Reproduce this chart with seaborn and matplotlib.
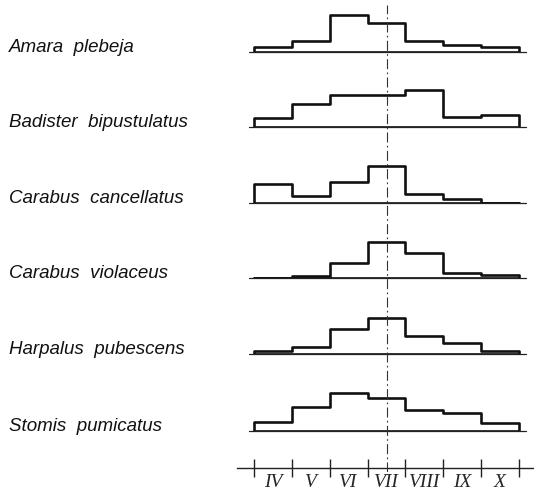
import numpy as np
import pandas as pd
import matplotlib
matplotlib.use("Agg")
import matplotlib.pyplot as plt
import seaborn as sns

# ---- data ----
months = ["IV", "V", "VI", "VII", "VIII", "IX", "X"]
species = ["Amara  plebeja", "Badister  bipustulatus", "Carabus  cancellatus",
           "Carabus  violaceus", "Harpalus  pubescens", "Stomis  pumicatus"]
amara = [5, 11, 37, 29, 11, 7, 4.5]
badister = [9, 23, 32, 32, 37, 10, 12]
cancellatus = [19, 6.5, 21, 37, 8.5, 3.5, 0]
violaceus = [0, 1.7, 15, 36, 25, 4.5, 2.7]
harpalus = [3.3, 7.3, 25.5, 36.5, 18.3, 11.3, 3]
stomis = [8.5, 23.5, 37.5, 33, 20.5, 18, 8]
series = [amara, badister, cancellatus, violaceus, harpalus, stomis]

sns.set_theme(style="white")
plt.rcParams["font.family"] = ["Liberation Sans", "DejaVu Sans"]

W, H = 534, 496
fig = plt.figure(figsize=(W / 100, H / 100), dpi=100)

X0, UNIT = 254.0, 37.86          # pixel of first month edge, pixels per month


def px2x(p):
    return (p - X0) / UNIT


def add_axes_px(left, right, top, bottom):
    return fig.add_axes([left / W, 1 - bottom / H, (right - left) / W, (bottom - top) / H])


edges = [float(i) for i in range(len(months) + 1)]
centers = [e + 0.5 for e in edges[:-1]]
baselines = [51.7, 127.3, 202.7, 277.7, 354.0, 430.7]
PH = 48  # panel height in px (value units)

for name, vals, b in zip(species, series, baselines):
    ax = add_axes_px(249, 526, b - PH, b)
    df = pd.DataFrame({"month": centers, "n": vals})
    sns.histplot(data=df, x="month", weights="n", bins=edges, element="step",
                 fill=True, color="#111111", facecolor="none",
                 edgecolor="#111111", linewidth=1.9, ax=ax)
    ax.axhline(0, color="#222222", lw=0.9, clip_on=False)
    ax.set_xlim(px2x(249), px2x(526))
    ax.set_ylim(0, PH)
    ax.set_axis_off()
    fig.text(9 / W, 1 - b / H, name, fontsize=13.5, fontstyle="italic",
             ha="left", va="baseline", color="#111111")

# month axis
axm = add_axes_px(237, 533, 440, 468)
axm.set_xlim(px2x(237), px2x(533))
axm.set_ylim(0, 1)
for s in ["top", "left", "right"]:
    axm.spines[s].set_visible(False)
axm.spines["bottom"].set_color("#222222")
axm.spines["bottom"].set_linewidth(1.0)
axm.set_yticks([])
axm.set_xticks(edges)
axm.set_xticklabels([])
axm.set_xticks(centers, minor=True)
axm.set_xticklabels(months, minor=True, fontstyle="italic",
                    family=["Liberation Serif", "DejaVu Serif"], fontsize=14)
axm.tick_params(axis="x", which="major", direction="inout", length=13,
                width=1.0, color="#222222", bottom=True)
axm.tick_params(axis="x", which="minor", length=0, pad=4, bottom=True)
axm.patch.set_alpha(0)

# dashed vertical reference line through mid-July
axv = add_axes_px(237, 533, 5, 472)
axv.set_xlim(px2x(237), px2x(533))
axv.set_ylim(0, 1)
axv.axvline(3.5, color="#333333", lw=0.8, linestyle=(0, (9, 3, 1.5, 3)))
axv.set_axis_off()

fig.savefig("out.png", dpi=100)
